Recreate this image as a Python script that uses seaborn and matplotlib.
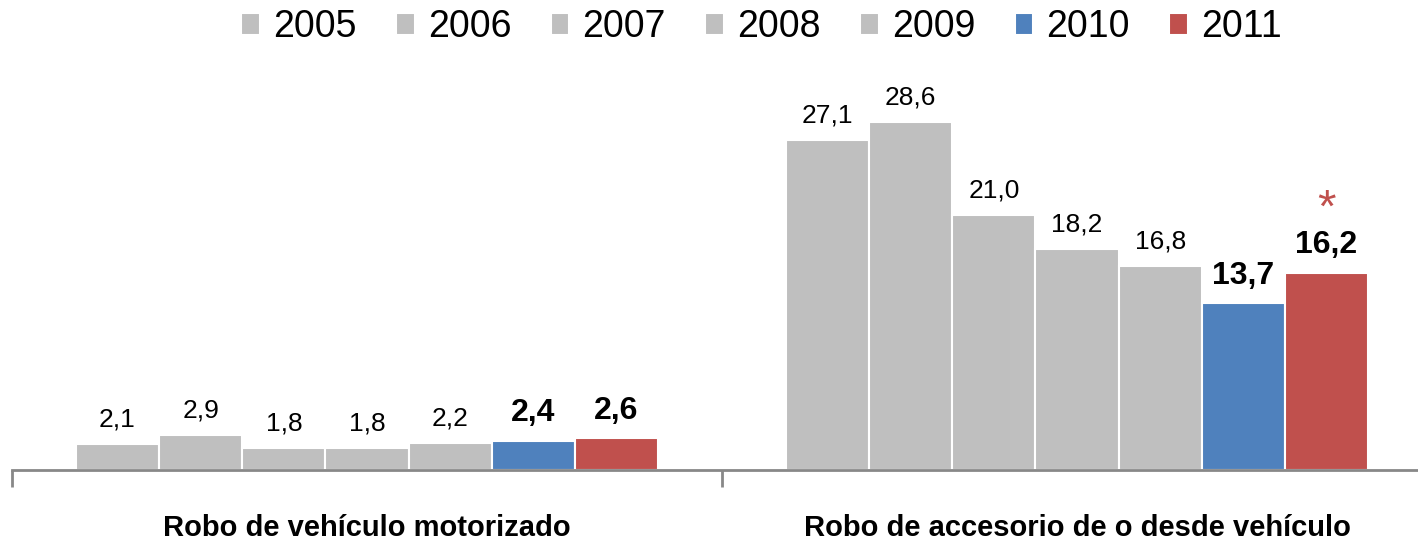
import matplotlib
matplotlib.use('Agg')
import matplotlib.pyplot as plt
import seaborn as sns
import pandas as pd
from matplotlib import font_manager

# Datos
categorias = ['Robo de vehículo motorizado', 'Robo de accesorio de o desde vehículo']
anios = ['2005', '2006', '2007', '2008', '2009', '2010', '2011']
robo_vehiculo = [2.1, 2.9, 1.8, 1.8, 2.2, 2.4, 2.6]
robo_accesorio = [27.1, 28.6, 21.0, 18.2, 16.8, 13.7, 16.2]
colores = ['#BFBFBF'] * 5 + ['#4F81BD', '#C0504D']

sns.set_theme(style='white')
nombres = {f.name for f in font_manager.fontManager.ttflist}
fuente = 'Liberation Sans Narrow' if 'Liberation Sans Narrow' in nombres else 'Liberation Sans'
plt.rcParams['font.family'] = [fuente, 'DejaVu Sans']
plt.rcParams['text.color'] = 'black'
plt.rcParams['xtick.labelcolor'] = 'black'

df = pd.DataFrame({
    'categoria': [categorias[0]] * 7 + [categorias[1]] * 7,
    'anio': anios * 2,
    'valor': robo_vehiculo + robo_accesorio,
})

fig = plt.figure(figsize=(14.18, 5.45), dpi=100)
ax = fig.add_axes([12 / 1418, 75 / 545, 1420 / 1418, 410 / 545])

sns.barplot(data=df, x='categoria', y='valor', hue='anio', order=categorias,
            hue_order=anios, palette=colores, width=0.82, saturation=1,
            edgecolor='white', linewidth=1.5, ax=ax, legend=True)

ax.set_ylim(0, 33.7)
ax.set_xlim(-0.5, 1.5)

# etiquetas de valores
for i, cont in enumerate(ax.containers):
    negrita = anios[i] in ('2010', '2011')
    etiquetas = [f'{v:.1f}'.replace('.', ',') for v in cont.datavalues]
    ax.bar_label(cont, labels=etiquetas, padding=9,
                 fontsize=23 if negrita else 19,
                 fontweight='bold' if negrita else 'normal', color='black')

# asterisco sobre 2011
barra = ax.containers[6].patches[1]
ax.annotate('*', (barra.get_x() + barra.get_width() / 2, barra.get_height()),
            xytext=(0, 30), textcoords='offset points', ha='center', va='bottom',
            fontsize=34, color='#C0504D')

# eje x
for s in ['top', 'right', 'left']:
    ax.spines[s].set_visible(False)
ax.spines['bottom'].set_color('#888888')
ax.spines['bottom'].set_linewidth(2)
ax.set_yticks([])
ax.set_ylabel('')
ax.set_xlabel('')
ax.set_xticks([0, 1])
ax.set_xticklabels(categorias, fontsize=21, fontweight='bold')
ax.tick_params(axis='x', which='major', length=0, pad=32)
ax.set_xticks([-0.5, 0.5, 1.5], minor=True)
ax.tick_params(axis='x', which='minor', length=12, width=2, color='#888888',
               direction='out', bottom=True)

# leyenda
handles, labels = ax.get_legend_handles_labels()
ax.get_legend().remove()
fig.legend(handles, labels, loc='upper center', bbox_to_anchor=(0.537, 1.045),
           ncol=7, frameon=False, fontsize=27, handlelength=0.5,
           handleheight=0.5, handletextpad=0.35, columnspacing=1.05)

fig.savefig('out.png', dpi=100)
